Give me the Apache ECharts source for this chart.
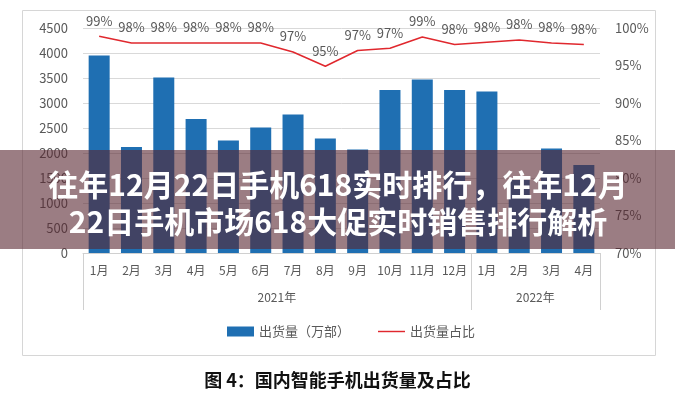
<!DOCTYPE html>
<html>
<head>
<meta charset="utf-8">
<script src="https://cdn.jsdelivr.net/npm/echarts@6/dist/echarts.min.js"></script>
<style>
html,body{margin:0;padding:0;background:#fff;}
#c{width:675px;height:400px;}
</style>
</head>
<body>
<div id="c"></div>
<script>
var months = ['1月','2月','3月','4月','5月','6月','7月','8月','9月','10月','11月','12月','1月','2月','3月','4月'];
var years = ['2021年','2022年'];
var yearMonthCounts = [12, 4];
var shipments = [3950, 2120, 3510, 2680, 2250, 2510, 2770, 2290, 2070, 3260, 3470, 3260, 3230, 1460, 2090, 1760];
var share = [98.9, 98.0, 98.0, 98.0, 98.0, 98.0, 96.8, 94.9, 97.0, 97.3, 98.8, 97.8, 98.1, 98.4, 98.0, 97.8];
var leftTicks = [0, 4500, 500];
var rightTicks = [70, 100, 5];
var bannerLines = ['往年12月22日手机618实时排行，往年12月', '22日手机市场618大促实时销售排行解析'];
var figTitle = '图 4：国内智能手机出货量及占比';
var seriesNames = ['出货量（万部）', '出货量占比'];

// build year-level axis (half-category slots, boundaryGap false)
var yearSlots = [];
var sepIdx = [0];
var pos = 0;
for (var i = 0; i <= months.length * 2; i++) yearSlots.push('');
for (var k = 0; k < years.length; k++) {
  yearSlots[pos + yearMonthCounts[k]] = years[k];
  pos += yearMonthCounts[k] * 2;
  sepIdx.push(pos);
}

var font = '"Noto Sans CJK SC", "Noto Sans", sans-serif';
var txt = '#595959';
var chart = echarts.init(document.getElementById('c'), null, {renderer: 'canvas'});
chart.setOption({
  animation: false,
  backgroundColor: '#ffffff',
  textStyle: {fontFamily: font},
  title: {
    text: figTitle,
    left: 'center',
    top: 366,
    textStyle: {fontFamily: font, fontSize: 18, fontWeight: 'bold', color: '#111'}
  },
  legend: {
    left: 222,
    top: 320,
    itemWidth: 27,
    itemHeight: 10,
    itemGap: 28,
    textStyle: {fontFamily: font, fontSize: 13, color: txt},
    data: [
      {name: seriesNames[0], icon: 'rect'},
      {name: seriesNames[1], icon: 'path://M0,0 L30,0 L30,1.6 L0,1.6 Z', itemStyle: {color: '#e0282e'}}
    ]
  },
  grid: {left: 83, right: 75, top: 28, bottom: 147},
  xAxis: [
    {
      type: 'category',
      data: months,
      axisLine: {lineStyle: {color: '#d0d0d0'}},
      axisTick: {show: false},
      axisLabel: {interval: 0, color: txt, fontSize: 12, margin: 11, fontFamily: font}
    },
    {
      type: 'category',
      position: 'bottom',
      boundaryGap: false,
      data: yearSlots,
      axisLine: {show: false},
      axisTick: {
        show: true,
        length: 57,
        lineStyle: {color: '#d0d0d0'},
        interval: function (idx) { return sepIdx.indexOf(idx) >= 0; }
      },
      axisLabel: {interval: 0, color: txt, fontSize: 12, margin: 38, fontFamily: font}
    }
  ],
  yAxis: [
    {
      type: 'value',
      min: leftTicks[0], max: leftTicks[1], interval: leftTicks[2],
      axisLine: {show: false},
      axisTick: {show: false},
      axisLabel: {color: txt, fontSize: 13, margin: 15, fontFamily: font,
        formatter: function (v) { return String(v); }},
      splitLine: {lineStyle: {color: '#d9d9d9'}}
    },
    {
      type: 'value',
      min: rightTicks[0], max: rightTicks[1], interval: rightTicks[2],
      position: 'right',
      axisLine: {show: false},
      axisTick: {show: false},
      axisLabel: {color: txt, fontSize: 13, margin: 15, formatter: '{value}%', fontFamily: font},
      splitLine: {show: false}
    }
  ],
  series: [
    {
      name: seriesNames[0],
      type: 'bar',
      data: shipments,
      barWidth: 21,
      itemStyle: {color: '#1f6fb2'}
    },
    {
      name: seriesNames[1],
      type: 'line',
      yAxisIndex: 1,
      data: share,
      symbol: 'circle',
      symbolSize: 0,
      showSymbol: true,
      lineStyle: {color: '#e0282e', width: 1.5},
      itemStyle: {color: '#e0282e'},
      label: {
        show: true,
        position: 'top',
        distance: 9,
        color: txt,
        fontSize: 13,
        fontFamily: font,
        formatter: function (p) { return Math.round(p.value) + '%'; }
      }
    }
  ],
  graphic: [
    {
      type: 'rect',
      z: -10,
      silent: true,
      shape: {x: 22.5, y: 10.5, width: 633, height: 345},
      style: {fill: 'none', stroke: '#d6d6d6', lineWidth: 1}
    },
    {
      type: 'rect',
      z: 100,
      silent: true,
      shape: {x: 0, y: 150, width: 675, height: 99},
      style: {fill: 'rgba(88,38,48,0.6)'}
    },
    {
      type: 'text',
      z: 101,
      silent: true,
      x: 338, y: 185,
      style: {
        text: bannerLines[0],
        fill: '#ffffff',
        font: 'bold 30px "Noto Sans CJK SC", sans-serif',
        textAlign: 'center',
        textVerticalAlign: 'middle'
      }
    },
    {
      type: 'text',
      z: 101,
      silent: true,
      x: 338, y: 222,
      style: {
        text: bannerLines[1],
        fill: '#ffffff',
        font: 'bold 30px "Noto Sans CJK SC", sans-serif',
        textAlign: 'center',
        textVerticalAlign: 'middle'
      }
    }
  ]
});
</script>
</body>
</html>
